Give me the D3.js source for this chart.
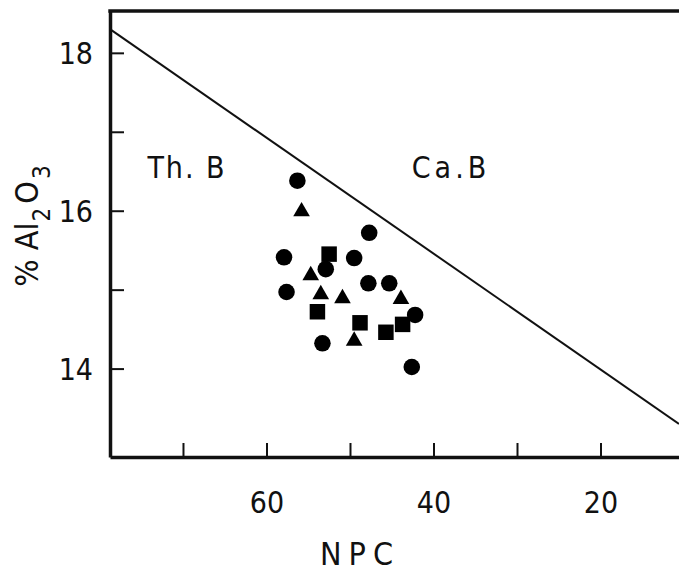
<!DOCTYPE html>
<html><head><meta charset="utf-8">
<script src="https://cdn.jsdelivr.net/npm/d3@7"></script>
<style>
html,body{margin:0;padding:0;background:#fff;}
text{font-family:"Liberation Sans Narrow","DejaVu Sans Condensed","DejaVu Sans",sans-serif;fill:#111;}
</style></head>
<body><svg id="c" width="679" height="572"></svg>
<script>
// NPC (x) and % Al2O3 (y) values
const circleNPC = [56.3, 47.7, 57.9, 49.5, 52.9, 57.6, 47.8, 45.3, 42.2, 53.3, 42.6];
const circleAl  = [16.38, 15.72, 15.41, 15.40, 15.26, 14.97, 15.08, 15.08, 14.68, 14.32, 14.02];
const triangleNPC = [55.8, 54.7, 53.5, 50.9, 43.9, 49.5];
const triangleAl  = [15.99, 15.18, 14.94, 14.89, 14.88, 14.35];
const squareNPC = [52.5, 53.9, 48.8, 45.7, 43.7];
const squareAl  = [15.45, 14.72, 14.58, 14.46, 14.56];
const boundaryNPC = [78.74, 10.6];
const boundaryAl  = [18.30, 13.30];
const xTickValues = [70, 60, 50, 40, 30, 20];
const xTickLabels = ["", "60", "", "40", "", "20"];
const yTickValues = [18, 17, 16, 15, 14];
const yTickLabels = ["18", "", "16", "", "14"];
const fieldLabels = ["Th. B", "Ca.B"];

const svg = d3.select("#c");
const L = 110, R = 679, T = 11, B = 457;
const x = d3.scaleLinear().domain([78.74, 10.6]).range([L, R]);
const y = d3.scaleLinear().domain([12.88, 18.53]).range([B, T]);

// axes (ticks inward)
const xAxis = d3.axisBottom(x).tickValues(xTickValues)
  .tickFormat((d, i) => xTickLabels[i]).tickSizeInner(-14).tickSizeOuter(0).tickPadding(35);
const gx = svg.append("g").attr("transform", `translate(0,${B})`).call(xAxis);
gx.select(".domain").attr("stroke", "#111").attr("stroke-width", 3.5);
gx.selectAll(".tick line").attr("stroke", "#111").attr("stroke-width", 2);
gx.selectAll(".tick text").attr("font-size", 30).attr("fill", "#111").attr("dy", "0.71em");

const yAxis = d3.axisLeft(y).tickValues(yTickValues)
  .tickFormat((d, i) => yTickLabels[i]).tickSizeInner(-14).tickSizeOuter(0).tickPadding(17);
const gy = svg.append("g").attr("transform", `translate(${L},0)`).call(yAxis);
gy.select(".domain").attr("stroke", "#111").attr("stroke-width", 3.5);
gy.selectAll(".tick line").attr("stroke", "#111").attr("stroke-width", 2);
gy.selectAll(".tick text").attr("font-size", 30).attr("fill", "#111").attr("dy", "0.36em");

// top frame line
svg.append("line").attr("x1", L - 1.7).attr("x2", R).attr("y1", T).attr("y2", T)
  .attr("stroke", "#111").attr("stroke-width", 3.5);

// boundary line
svg.append("line")
  .attr("x1", x(boundaryNPC[0])).attr("y1", y(boundaryAl[0]))
  .attr("x2", x(boundaryNPC[1])).attr("y2", y(boundaryAl[1]))
  .attr("stroke", "#111").attr("stroke-width", 2);

// markers
function drawSet(xs, ys, type, size) {
  svg.append("g").selectAll("path").data(xs.map((v, i) => [v, ys[i]])).join("path")
    .attr("transform", d => `translate(${x(d[0])},${y(d[1])})`)
    .attr("d", d3.symbol().type(type).size(size))
    .attr("fill", "#000");
}
drawSet(circleNPC, circleAl, d3.symbolCircle, 215);
drawSet(triangleNPC, triangleAl, d3.symbolTriangle, 120);
drawSet(squareNPC, squareAl, d3.symbolSquare, 240);

// field labels
svg.append("text").attr("x", 187).attr("y", 167).attr("dy", "0.36em")
  .attr("text-anchor", "middle").attr("font-size", 30).attr("letter-spacing", 2)
  .text(fieldLabels[0]);
svg.append("text").attr("x", 451).attr("y", 167).attr("dy", "0.36em")
  .attr("text-anchor", "middle").attr("font-size", 30).attr("letter-spacing", 4)
  .text(fieldLabels[1]);

// axis titles
svg.append("text").attr("x", 360).attr("y", 553).attr("dy", "0.36em")
  .attr("text-anchor", "middle").attr("font-size", 32).attr("letter-spacing", 7)
  .text("NPC");

const yl = svg.append("text").attr("transform", "translate(38,226) rotate(-90)")
  .attr("text-anchor", "middle").attr("font-size", 32);
yl.append("tspan").text("% Al");
yl.append("tspan").attr("font-size", 24).attr("dy", 12).attr("dx", 1).text("2");
yl.append("tspan").attr("dy", -12).attr("dx", 4).text("O");
yl.append("tspan").attr("font-size", 24).attr("dy", 12).attr("dx", 2).text("3");
</script></body></html>
